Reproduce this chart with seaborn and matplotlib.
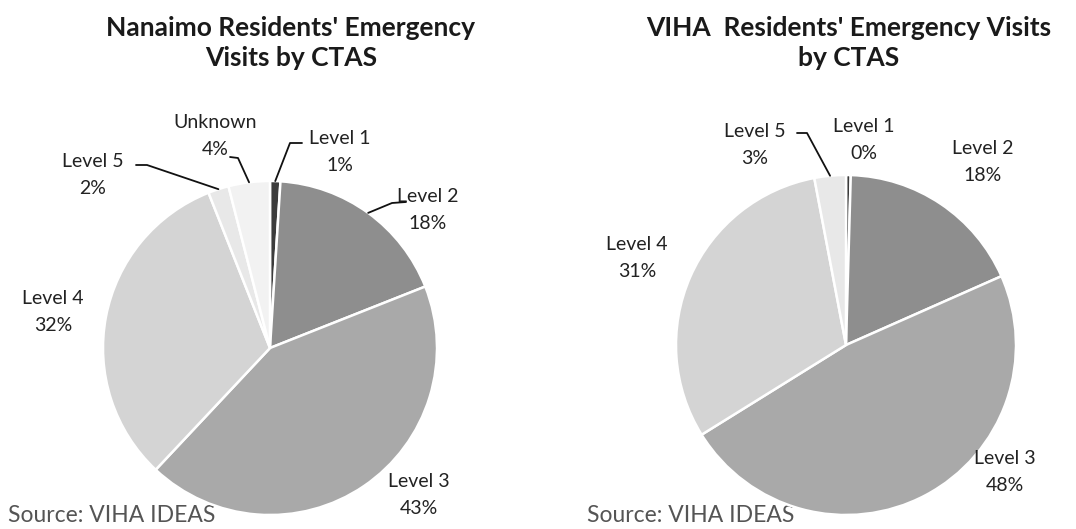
import numpy as np
import pandas as pd
import seaborn as sns
import matplotlib.pyplot as plt

# data
categories = ['Level 1', 'Level 2', 'Level 3', 'Level 4', 'Level 5', 'Unknown']
nanaimo_pct = [1, 18, 43, 32, 2, 4]
viha_cats = ['Level 1', 'Level 2', 'Level 3', 'Level 4', 'Level 5']
viha_pct = [0.45, 18, 48, 31, 3]

titles = ["Nanaimo Residents' Emergency\nVisits by CTAS",
          "VIHA  Residents' Emergency Visits\nby CTAS"]
source = 'Source: VIHA IDEAS'

sns.set_theme(style='white')
plt.rcParams['font.family'] = ['Lato', 'DejaVu Sans']

greys = {'Level 1': '#3c3c3c', 'Level 2': '#8e8e8e', 'Level 3': '#a9a9a9',
         'Level 4': '#d4d4d4', 'Level 5': '#e8e8e8', 'Unknown': '#f2f2f2'}

W, H = 1076, 529
fig = plt.figure(figsize=(W / 100, H / 100), dpi=100)

# pixel layout: pie centre/radius, label centres, leader line start points
layouts = [
    dict(x0=0, x1=538, cx=270, cy=348, r=167, title_x=291,
         labels={'Level 1': (340, 152), 'Level 2': (428, 210), 'Level 3': (419, 495),
                 'Level 4': (53, 312), 'Level 5': (93, 175), 'Unknown': (215, 136)},
         leaders={'Level 1': [(302, 143), (290, 143)],
                  'Level 2': [(406, 202), (392, 203)],
                  'Level 5': [(136, 165), (147, 165)],
                  'Unknown': [(230, 157), (238, 158)]},
         src=(8, 516)),
    dict(x0=538, x1=1076, cx=846, cy=345, r=170, title_x=849,
         labels={'Level 1': (864, 140), 'Level 2': (983, 162), 'Level 3': (1005, 472),
                 'Level 4': (637, 258), 'Level 5': (755, 145)},
         leaders={'Level 5': [(797, 133), (807, 133)]},
         src=(587, 515)),
]

datasets = [(categories, nanaimo_pct), (viha_cats, viha_pct)]

for (cats, vals), lay, title in zip(datasets, layouts, titles):
    ax = fig.add_axes([lay['x0'] / W, 0, (lay['x1'] - lay['x0']) / W, 1])
    cx, cy, r = lay['cx'], lay['cy'], lay['r']

    def d(p):
        return ((p[0] - cx) / r, (cy - p[1]) / r)

    wedges, _ = ax.pie(vals, colors=[greys[c] for c in cats], startangle=90,
                       counterclock=False, radius=1,
                       wedgeprops=dict(edgecolor='white', linewidth=1.8))
    for w in wedges:
        w.set_zorder(2)
    ax.set_xlim((lay['x0'] - cx) / r, (lay['x1'] - cx) / r)
    ax.set_ylim((cy - H) / r, cy / r)
    ax.set_aspect('auto')
    ax.axis('off')

    total = sum(vals)
    for c, v, w in zip(cats, vals, wedges):
        lx, ly = d(lay['labels'][c])
        ax.text(lx, ly, f'{c}\n{v / total * 100:.0f}%', ha='center', va='center',
                fontsize=14, color='#222222', linespacing=1.65, zorder=3)
        if c in lay['leaders']:
            th = np.deg2rad((w.theta1 + w.theta2) / 2)
            pts = [d(p) for p in lay['leaders'][c]] + [(np.cos(th), np.sin(th))]
            xs, ys = zip(*pts)
            ax.plot(xs, ys, color='#111111', lw=1.3, zorder=3)

    sx, sy = d(lay['src'])
    ax.text(sx, sy, source, ha='left', va='center', fontsize=16.5,
            color='#555555', zorder=1)

    fig.text(lay['title_x'] / W, 1 - 43 / H, title, ha='center', va='center',
             fontsize=19, fontweight='bold', color='#1a1a1a', linespacing=1.3)

fig.savefig('out.png', dpi=100, facecolor='white')
